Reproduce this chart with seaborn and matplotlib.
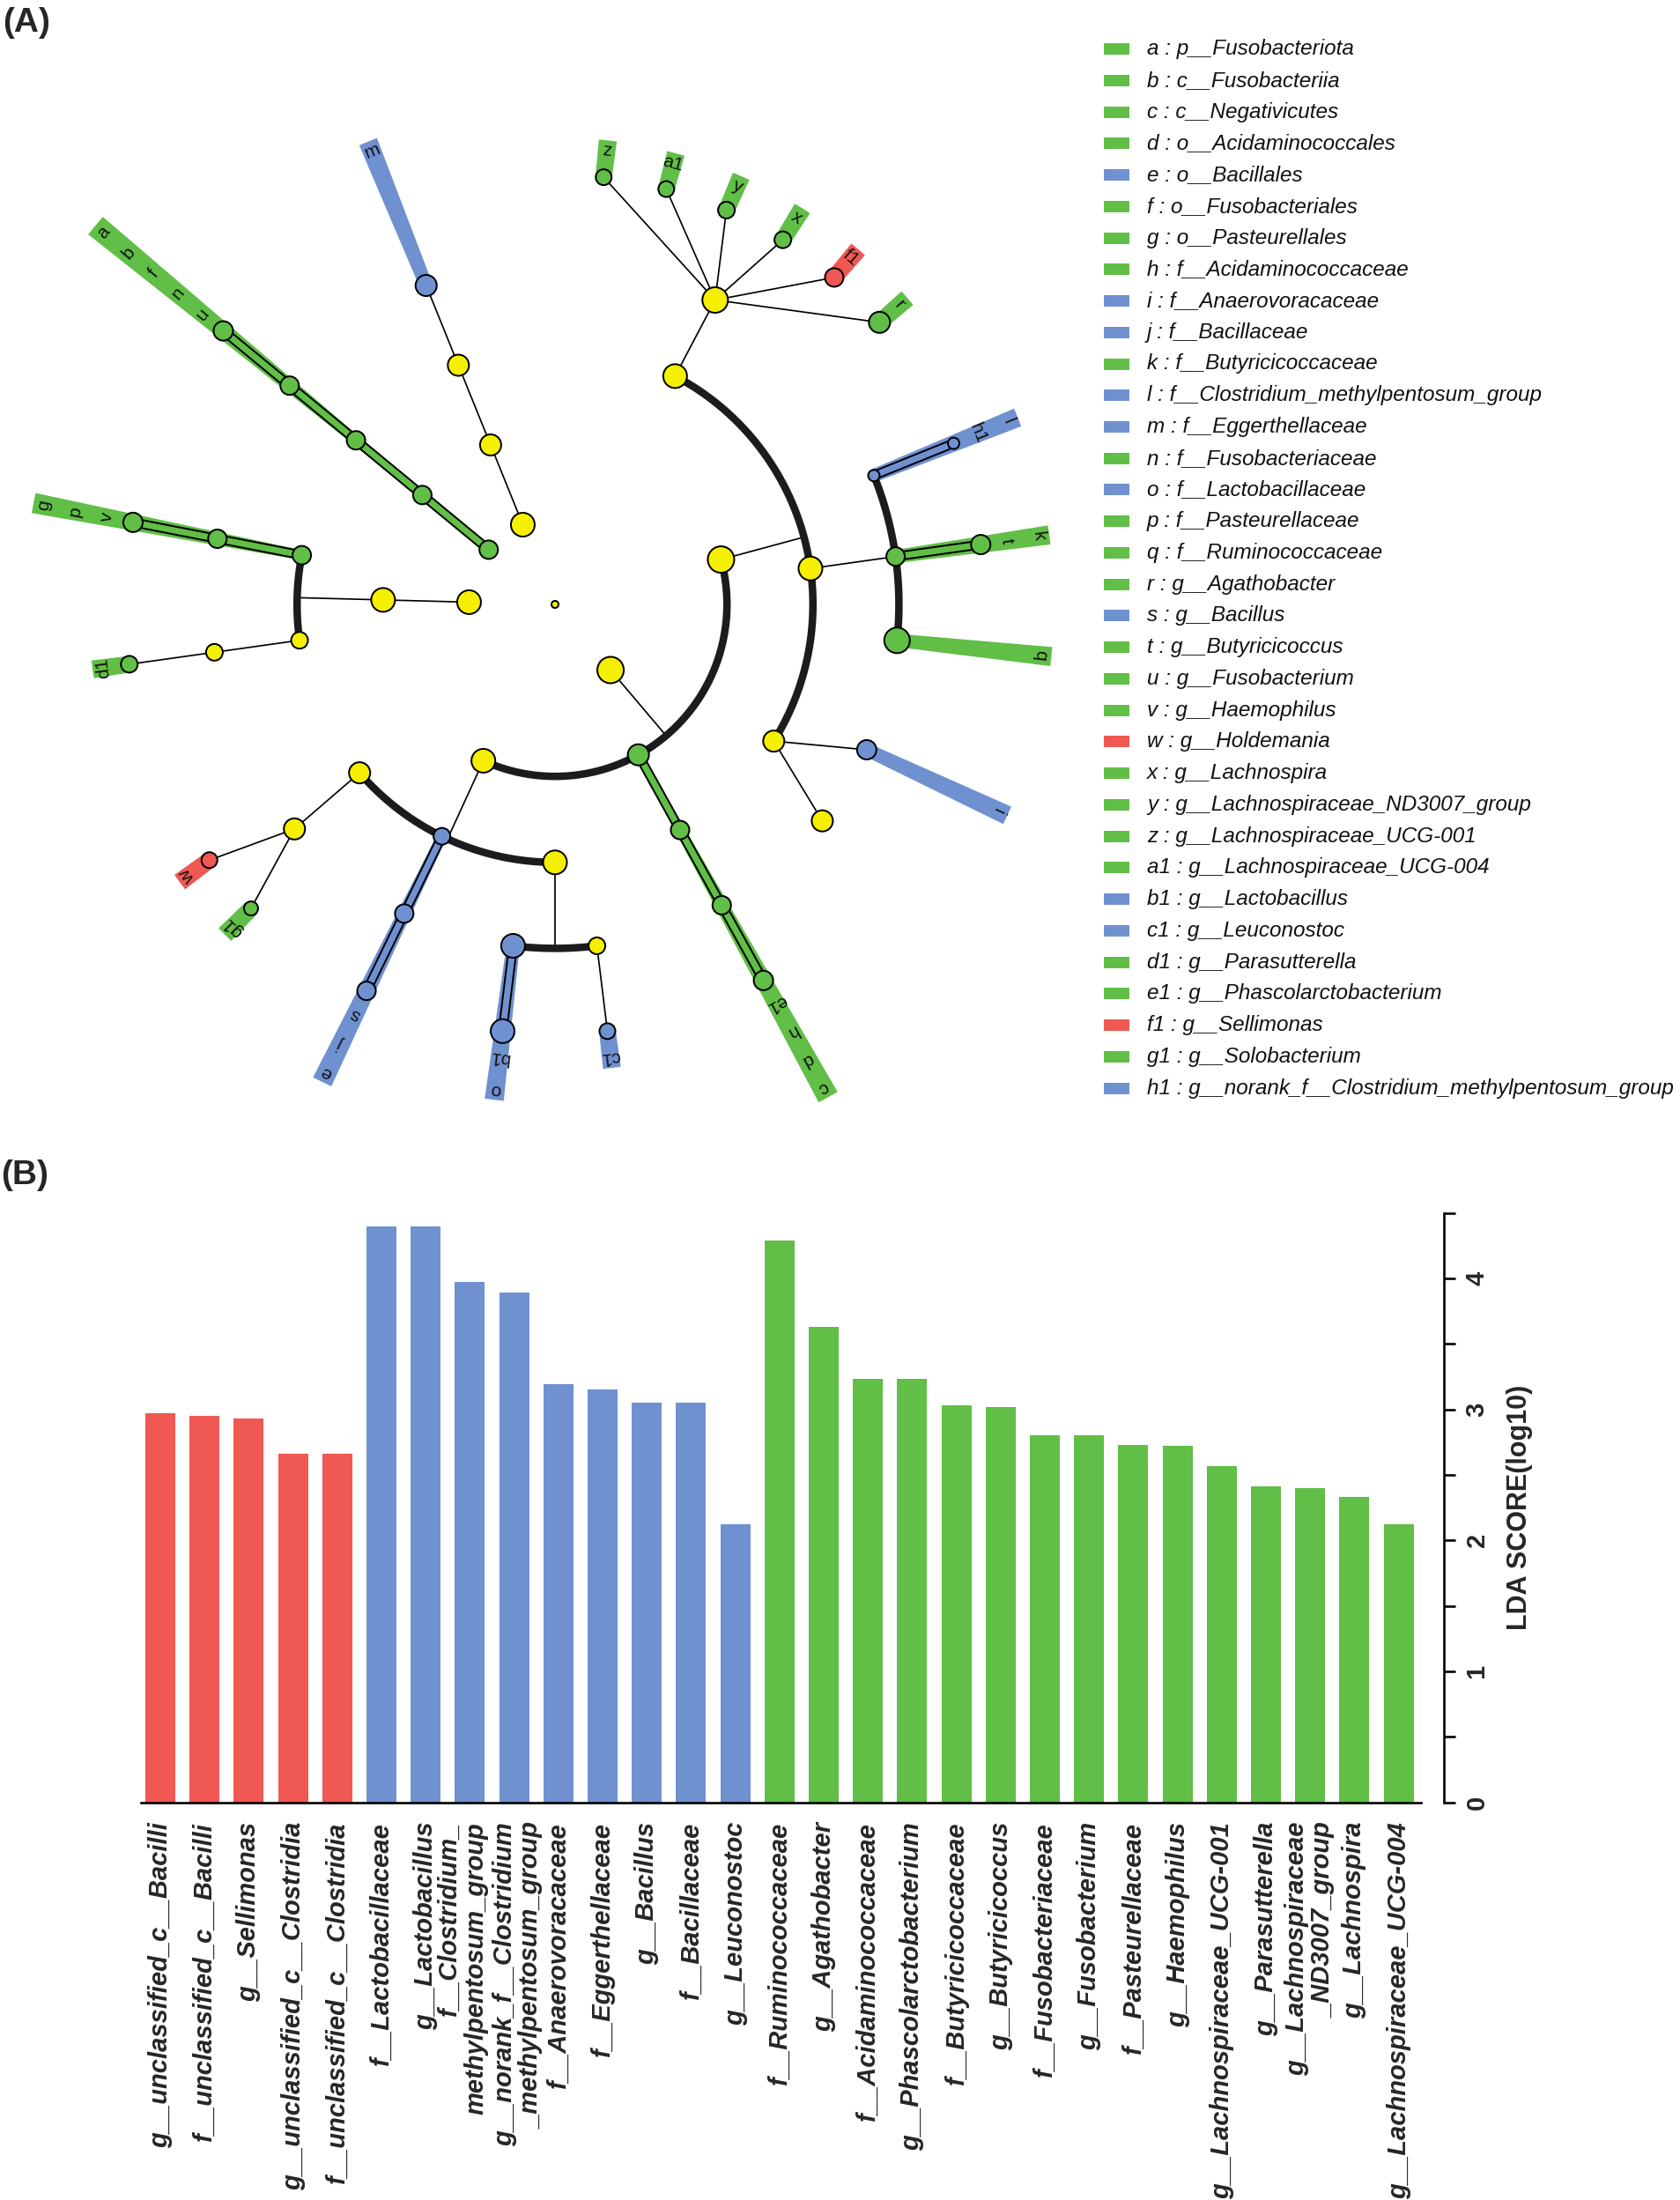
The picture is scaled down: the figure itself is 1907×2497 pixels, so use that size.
import numpy as np
import pandas as pd
import matplotlib
matplotlib.use("Agg")
import matplotlib.pyplot as plt
import matplotlib.transforms as mtransforms
from matplotlib.patches import Wedge, Rectangle
import seaborn as sns

sns.set_theme(style="white")
plt.rcParams["font.family"] = ["Liberation Sans", "DejaVu Sans"]

W, H, DPI = 1907, 2497, 100
PT = 72.0 / DPI  # points per pixel

GROUP_COLORS = {"R": "#EF5853", "B": "#7091D0", "G": "#61BE46", "N": "#F5F000"}

# ---------------- Panel B data (LDA scores) ----------------
lda_taxa = [
    "g__unclassified_c__Bacilli", "f__unclassified_c__Bacilli", "g__Sellimonas",
    "g__unclassified_c__Clostridia", "f__unclassified_c__Clostridia",
    "f__Lactobacillaceae", "g__Lactobacillus", "f__Clostridium_\nmethylpentosum_group",
    "g__norank_f__Clostridium\n_methylpentosum_group", "f__Anaerovoracaceae",
    "f__Eggerthellaceae", "g__Bacillus", "f__Bacillaceae", "g__Leuconostoc",
    "f__Ruminococcaceae", "g__Agathobacter", "f__Acidaminococcaceae",
    "g__Phascolarctobacterium", "f__Butyricicoccaceae", "g__Butyricicoccus",
    "f__Fusobacteriaceae", "g__Fusobacterium", "f__Pasteurellaceae", "g__Haemophilus",
    "g__Lachnospiraceae_UCG-001", "g__Parasutterella", "g__Lachnospiraceae\n_ND3007_group",
    "g__Lachnospira", "g__Lachnospiraceae_UCG-004",
]
lda_group = ["R", "R", "R", "R", "R",
             "B", "B", "B", "B", "B", "B", "B", "B", "B",
             "G", "G", "G", "G", "G", "G", "G", "G", "G", "G", "G", "G", "G", "G", "G"]
lda_score = [2.97, 2.95, 2.93, 2.66, 2.66,
             4.40, 4.40, 3.97, 3.89, 3.19, 3.15, 3.05, 3.05, 2.12,
             4.29, 3.63, 3.23, 3.23, 3.03, 3.02, 2.80, 2.80, 2.73, 2.72, 2.57,
             2.41, 2.40, 2.33, 2.12]

# ---------------- Panel A data (cladogram) ----------------
clade_name = [
    "Bacteria",
    "Fusobacteriota", "Fusobacteriia", "Fusobacteriales", "Fusobacteriaceae", "Fusobacterium",
    "Actinobacteriota", "Coriobacteriia", "Coriobacteriales", "Eggerthellaceae",
    "Firmicutes", "Clostridia", "Lachnospirales", "Lachnospiraceae",
    "Lachnospiraceae_UCG-001", "Lachnospiraceae_UCG-004", "Lachnospiraceae_ND3007_group",
    "Lachnospira", "Sellimonas", "Agathobacter",
    "Oscillospirales", "Clostridium_methylpentosum_group",
    "norank_f__Clostridium_methylpentosum_group",
    "Butyricicoccaceae", "Butyricicoccus", "Ruminococcaceae",
    "Peptostreptococcales-Tissierellales", "Anaerovoracaceae", "Peptostreptococcaceae",
    "Negativicutes", "Acidaminococcales", "Acidaminococcaceae", "Phascolarctobacterium",
    "Bacilli", "Lactobacillales", "Leuconostocaceae", "Leuconostoc",
    "Lactobacillaceae", "Lactobacillus",
    "Bacillales", "Bacillaceae", "Bacillus",
    "Erysipelotrichales", "Erysipelotrichaceae", "Solobacterium", "Holdemania",
    "Proteobacteria", "Gammaproteobacteria", "Burkholderiales", "Sutterellaceae",
    "Parasutterella", "Pasteurellales", "Pasteurellaceae", "Haemophilus",
]
clade_parent = [
    None,
    "Bacteria", "Fusobacteriota", "Fusobacteriia", "Fusobacteriales", "Fusobacteriaceae",
    "Bacteria", "Actinobacteriota", "Coriobacteriia", "Coriobacteriales",
    "Bacteria", "Firmicutes", "Clostridia", "Lachnospirales",
    "Lachnospiraceae", "Lachnospiraceae", "Lachnospiraceae",
    "Lachnospiraceae", "Lachnospiraceae", "Lachnospiraceae",
    "Clostridia", "Oscillospirales",
    "Clostridium_methylpentosum_group",
    "Oscillospirales", "Butyricicoccaceae", "Oscillospirales",
    "Clostridia", "Peptostreptococcales-Tissierellales", "Peptostreptococcales-Tissierellales",
    "Firmicutes", "Negativicutes", "Acidaminococcales", "Acidaminococcaceae",
    "Firmicutes", "Bacilli", "Lactobacillales", "Leuconostocaceae",
    "Lactobacillales", "Lactobacillaceae",
    "Bacilli", "Bacillales", "Bacillaceae",
    "Bacilli", "Erysipelotrichales", "Erysipelotrichaceae", "Erysipelotrichaceae",
    "Bacteria", "Proteobacteria", "Gammaproteobacteria", "Burkholderiales",
    "Sutterellaceae", "Gammaproteobacteria", "Pasteurellales", "Pasteurellaceae",
]
clade_rank = [
    0,
    1, 2, 3, 4, 5,
    1, 2, 3, 4,
    1, 2, 3, 4,
    5, 5, 5, 5, 5, 5,
    3, 4, 5,
    4, 5, 4,
    3, 4, 4,
    2, 3, 4, 5,
    2, 3, 4, 5,
    4, 5,
    3, 4, 5,
    3, 4, 5, 5,
    1, 2, 3, 4,
    5, 3, 4, 5,
]
clade_group = [
    "N",
    "G", "G", "G", "G", "G",
    "N", "N", "N", "B",
    "N", "N", "N", "N",
    "G", "G", "G", "G", "R", "G",
    "N", "B", "B",
    "G", "G", "G",
    "N", "B", "N",
    "G", "G", "G", "G",
    "N", "N", "N", "B",
    "B", "B",
    "B", "B", "B",
    "N", "N", "G", "R",
    "N", "N", "N", "N",
    "G", "G", "G", "G",
]
# relative abundance of each clade (drawn as circle diameter)
clade_abund = [
    8,
    21, 21, 21, 21, 22,
    27, 24, 24, 24,
    30, 30, 27, 29,
    18, 18, 19, 19, 21, 24,
    27, 13, 13,
    21, 22, 29,
    24, 22, 24,
    24, 21, 21, 22,
    27, 27, 19, 18,
    27, 27,
    19, 21, 21,
    24, 24, 16, 18,
    27, 27, 19, 19,
    19, 21, 21, 22,
]
fan_parents = ["Lachnospiraceae", "Erysipelotrichaceae", "Peptostreptococcales-Tissierellales"]
RANK_PREFIX = ["k", "p", "c", "o", "f", "g"]

# ---------------- layout of the cladogram (computed from the tree) ----------------
n = len(clade_name)
idx = {nm: i for i, nm in enumerate(clade_name)}
children = {i: [] for i in range(n)}
root = 0
for i, p in enumerate(clade_parent):
    if p is None:
        root = i
    else:
        children[idx[p]].append(i)

leaves = []
def dfs(i):
    if not children[i]:
        leaves.append(i)
    for c in children[i]:
        dfs(c)
dfs(root)

def ancestors(i):
    out = []
    while i is not None:
        out.append(i)
        p = clade_parent[i]
        i = idx[p] if p is not None else None
    return out

def lca_rank(i, j):
    ai = set(ancestors(i))
    for k in ancestors(j):
        if k in ai:
            return clade_rank[k]
    return 0

GAP = {0: 28.5, 1: 22.0, 2: 19.0, 3: 14.0, 4: 8.5}   # angular gap by shared rank
START = 140.5
theta = np.zeros(n)
ang = START
for k, leaf in enumerate(leaves):
    if k > 0:
        ang -= GAP[lca_rank(leaves[k - 1], leaf)]
    theta[leaf] = ang

def set_internal(i):
    if children[i]:
        for c in children[i]:
            set_internal(c)
        cs = [theta[c] for c in children[i]]
        theta[i] = (min(cs) + max(cs)) / 2.0
set_internal(root)

RSTEP = 97.6
rad = np.array(clade_rank, dtype=float) * RSTEP
LABEL_R0, LABEL_STEP, HALF = 518.0, 36.5, 1.1

def pol(r, t):
    t = np.radians(t)
    return r * np.cos(t), r * np.sin(t)

def colored(i):
    return clade_group[i] != "N"

# letters for biomarkers
bio = [i for i in range(n) if colored(i)]
bio_sorted = sorted(bio, key=lambda i: (clade_rank[i], clade_name[i]))
alpha = "abcdefghijklmnopqrstuvwxyz"
letter = {}
for k, i in enumerate(bio_sorted):
    letter[i] = alpha[k] if k < 26 else alpha[k - 26] + "1"

# ---------------- figure ----------------
fig = plt.figure(figsize=(W / DPI, H / DPI), dpi=DPI)
fig.patch.set_facecolor("white")

# Panel A axes: data units == pixels, origin at the tree centre (630, 686 px)
CX, CY = 630, 686
axA = fig.add_axes([0, 1 - 1280 / H, 1250 / W, 1280 / H])
axA.set_xlim(-CX, 1250 - CX)
axA.set_ylim(CY - 1280, CY)
axA.axis("off")

# shaded wedges for biomarker clades
for i in bio:
    p = clade_parent[i]
    if p is not None and colored(idx[p]):
        continue
    r_in = rad[i]
    r_out = LABEL_R0 + (5 - clade_rank[i]) * LABEL_STEP + 12
    t = theta[i]
    axA.add_patch(Wedge((0, 0), r_out, t - HALF, t + HALF, width=r_out - r_in,
                        facecolor=GROUP_COLORS[clade_group[i]], edgecolor="none", zorder=1))

# edges
for i in range(n):
    ch = children[i]
    if i == root or not ch:
        continue
    if len(ch) == 1 or clade_name[i] in fan_parents:
        for c in ch:
            x0, y0 = pol(rad[i], theta[i])
            x1, y1 = pol(rad[c], theta[c])
            if colored(i) and colored(c):
                axA.plot([x0, x1], [y0, y1], color="black", lw=11 * PT,
                         solid_capstyle="butt", zorder=3)
                axA.plot([x0, x1], [y0, y1], color=GROUP_COLORS[clade_group[c]], lw=7 * PT,
                         solid_capstyle="butt", zorder=3.1)
            else:
                axA.plot([x0, x1], [y0, y1], color="black", lw=1.7 * PT, zorder=2)
    else:
        rc = rad[ch[0]]
        x0, y0 = pol(rad[i], theta[i])
        x1, y1 = pol(rc, theta[i])
        axA.plot([x0, x1], [y0, y1], color="black", lw=1.7 * PT, zorder=2)
        cs = [theta[c] for c in ch]
        ts = np.linspace(min(cs), max(cs), 200)
        xs, ys = pol(rc, ts)
        axA.plot(xs, ys, color="#1c1c1c", lw=8.5 * PT, solid_capstyle="round", zorder=2.5)

# nodes
xs, ys = pol(rad, theta)
axA.scatter(xs, ys, s=(np.array(clade_abund) * PT) ** 2,
            c=[GROUP_COLORS[g] for g in clade_group],
            edgecolors="black", linewidths=2.0 * PT, zorder=5)

# labels in the wedges
for i in bio:
    r = LABEL_R0 + (5 - clade_rank[i]) * LABEL_STEP
    lx, ly = pol(r, theta[i])
    axA.text(lx, ly, letter[i], rotation=theta[i] - 90, rotation_mode="anchor",
             ha="center", va="center", fontsize=15, color="#111111", zorder=6)

# legend of biomarkers
axL = fig.add_axes([1240 / W, 1 - 1280 / H, 667 / W, 1280 / H])
axL.set_xlim(1240, 1907)
axL.set_ylim(1280, 0)
axL.axis("off")
for k, i in enumerate(bio_sorted):
    yy = 55.6 + k * 35.74
    axL.add_patch(Rectangle((1253, yy - 6.5), 29, 13,
                            facecolor=GROUP_COLORS[clade_group[i]], edgecolor="none"))
    axL.text(1302, yy, f"{letter[i]} : {RANK_PREFIX[clade_rank[i]]}__{clade_name[i]}",
             ha="left", va="center", fontsize=17.5, fontstyle="italic", color="#111111")

fig.text(3 / W, 1 - 8 / H, "(A)", fontsize=28, fontweight="bold", ha="left", va="top")
fig.text(1 / W, 1 - 1316 / H, "(B)", fontsize=28, fontweight="bold", ha="left", va="top")

# ---------------- Panel B: LDA bar chart ----------------
df = pd.DataFrame({"taxon": lda_taxa, "group": lda_group, "score": lda_score})
L_px, R_px, T_px, B_px = 156.9, 1638.8, 1376.7, 2045.6
axB = fig.add_axes([L_px / W, 1 - B_px / H, (R_px - L_px) / W, (B_px - T_px) / H])
sns.barplot(data=df, x="taxon", y="score", hue="group", palette=GROUP_COLORS,
            order=lda_taxa, dodge=False, width=0.68, saturation=1, legend=False,
            edgecolor="none", linewidth=0, ax=axB)
axB.set_xlim(-0.5, 29.02)
axB.set_ylim(0, 4.5)
axB.set_facecolor("white")
for s in ["top", "left"]:
    axB.spines[s].set_visible(False)
axB.spines["right"].set_visible(True)
axB.spines["bottom"].set_visible(True)
axB.spines["right"].set_linewidth(2.6 * PT)
axB.spines["bottom"].set_linewidth(2.6 * PT)
axB.spines["right"].set_color("black")
axB.spines["bottom"].set_color("black")
axB.spines["bottom"].set_bounds(-0.44, 28.5)
axB.yaxis.tick_right()
axB.yaxis.set_label_position("right")
yt = np.arange(0, 4.51, 0.5)
axB.set_yticks(yt)
axB.set_yticklabels([str(int(v)) if v == int(v) else "" for v in yt],
                    rotation=90, va="center", fontsize=21, fontweight="bold")
axB.tick_params(axis="y", which="major", direction="out", length=12.7 * PT,
                width=2.6 * PT, color="black", pad=8, right=True, left=False)
axB.set_xticks(range(len(lda_taxa)))
axB.set_xticklabels(lda_taxa, rotation=90, ha="center", va="top", multialignment="right",
                    fontsize=21, fontweight="bold", fontstyle="italic", linespacing=1.12)
axB.tick_params(axis="x", length=0, pad=16)
# the two wrapped labels sit slightly apart, as in the original layout
xl = axB.get_xticklabels()
for k, lab in enumerate(xl):
    if "\n" in lda_taxa[k]:
        shift = -8 if "\n" in lda_taxa[k + 1] else (5 if "\n" in lda_taxa[k - 1] else 0)
        lab.set_transform(lab.get_transform() +
                          mtransforms.ScaledTranslation(shift / DPI, 0, fig.dpi_scale_trans))
axB.set_xlabel("")
axB.set_ylabel("LDA SCORE(log10)", fontsize=22, fontweight="bold", labelpad=14)
axB.grid(False)

fig.savefig("out.png", dpi=DPI, facecolor="white")
